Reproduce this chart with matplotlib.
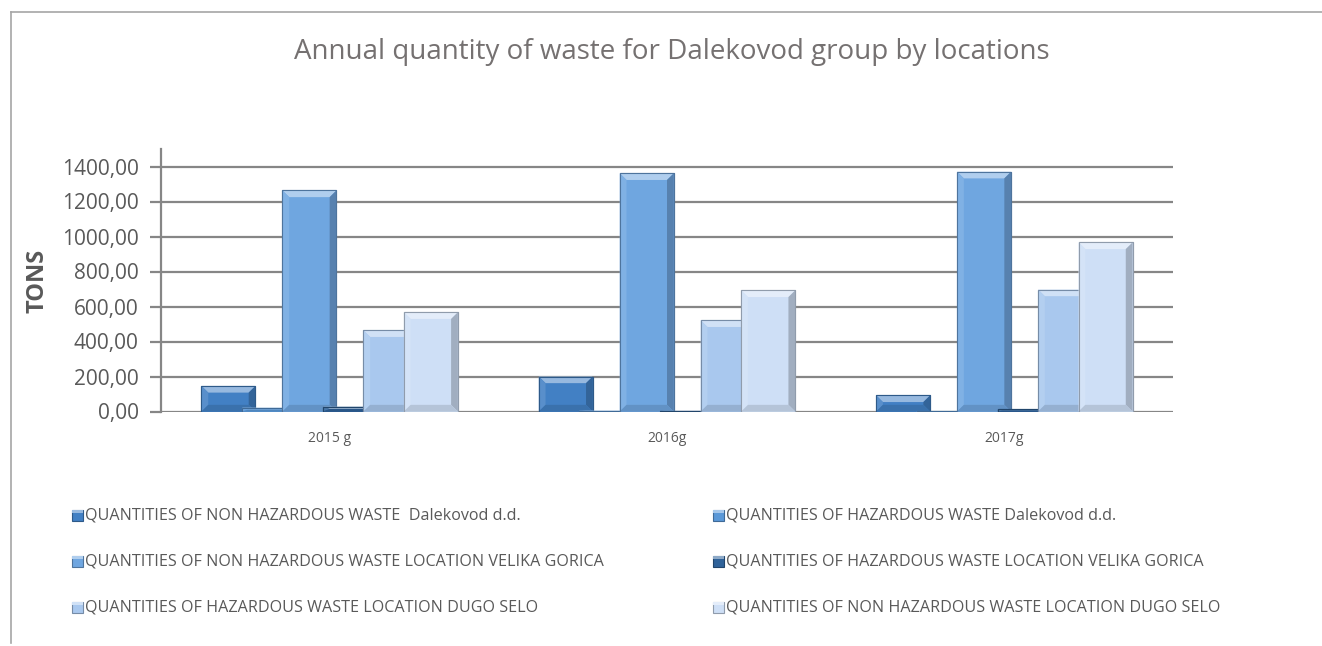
import matplotlib
matplotlib.use("Agg")
import matplotlib.pyplot as plt
from matplotlib.patches import Polygon, Rectangle
from matplotlib.lines import Line2D
import numpy as np

plt.rcParams['font.family'] = ['Open Sans', 'DejaVu Sans']

categories = ["2015 g", "2016g", "2017g"]
series_labels = [
    "QUANTITIES OF NON HAZARDOUS WASTE  Dalekovod d.d.",
    "QUANTITIES OF HAZARDOUS WASTE Dalekovod d.d.",
    "QUANTITIES OF NON HAZARDOUS WASTE LOCATION VELIKA GORICA",
    "QUANTITIES OF HAZARDOUS WASTE LOCATION VELIKA GORICA",
    "QUANTITIES OF HAZARDOUS WASTE LOCATION DUGO SELO",
    "QUANTITIES OF NON HAZARDOUS WASTE LOCATION DUGO SELO",
]
nonhaz_dalekovod = [146, 200, 92]
haz_dalekovod = [22, 5, 3]
nonhaz_velika_gorica = [1263, 1361, 1370]
haz_velika_gorica = [28, 4, 12]
haz_dugo_selo = [464, 521, 697]
nonhaz_dugo_selo = [567, 692, 966]
series_values = [nonhaz_dalekovod, haz_dalekovod, nonhaz_velika_gorica,
                 haz_velika_gorica, haz_dugo_selo, nonhaz_dugo_selo]
yticks = [0, 200, 400, 600, 800, 1000, 1200, 1400]
ytick_labels = ["0,00", "200,00", "400,00", "600,00", "800,00", "1000,00", "1200,00", "1400,00"]

colors = ["#4280C4", "#5A98D8", "#6FA6E0", "#2F6299", "#A9C8EE", "#CEDFF6"]

W, H = 1322, 646
fig = plt.figure(figsize=(W / 100, H / 100), dpi=100)
fig.patch.set_facecolor("white")

def px(x0, y0, x1, y1):
    return [x0 / W, 1 - y1 / H, (x1 - x0) / W, (y1 - y0) / H]

ax = fig.add_axes(px(161, 149, 1173, 411.5))
ax.set_xlim(-0.5, 2.5)
ax.set_ylim(0, 1500)

text_col = "#595959"
grid_col = "#868686"

ax.set_yticks(yticks)
ax.set_yticklabels(ytick_labels, color=text_col)
ax.tick_params(axis='y', length=8, width=1.6, color=grid_col, pad=8, labelsize=15)
ax.tick_params(axis='x', length=0, pad=14, labelsize=10, labelcolor=text_col)
ax.set_xticks(range(len(categories)))
ax.set_xticklabels(categories)
for s in ["top", "right", "bottom"]:
    ax.spines[s].set_visible(False)
ax.spines["left"].set_color(grid_col)
ax.spines["left"].set_linewidth(1.6)
for yv in yticks:
    ax.axhline(yv, color=grid_col, lw=1.6, zorder=0)

x = np.arange(len(categories))
step = 0.12
width = 0.16
n = len(series_values)

def shade(c, f):
    c = np.array(matplotlib.colors.to_rgb(c))
    if f > 0:
        return tuple(c + (1 - c) * f)
    return tuple(c * (1 + f))

bev_x = 0.02
bev_y = 38
for i, vals in enumerate(series_values):
    offs = (i - (n - 1) / 2) * step
    bars = ax.bar(x + offs, vals, width=width, color=colors[i],
                  edgecolor=shade(colors[i], -0.25), linewidth=0.8, zorder=2 + i)
    for b in bars:
        x0, y0 = b.get_x(), b.get_y()
        w, h = b.get_width(), b.get_height()
        by = min(bev_y, h / 2)
        bx = bev_x
        z = 2 + i + 0.5
        ax.add_patch(Polygon([(x0, y0 + h), (x0 + w, y0 + h), (x0 + w - bx, y0 + h - by), (x0 + bx, y0 + h - by)],
                             closed=True, facecolor=shade(colors[i], 0.45), edgecolor='none', zorder=z))
        ax.add_patch(Polygon([(x0, y0), (x0, y0 + h), (x0 + bx, y0 + h - by), (x0 + bx, y0 + by)],
                             closed=True, facecolor=shade(colors[i], 0.12), edgecolor='none', zorder=z))
        ax.add_patch(Polygon([(x0 + w, y0), (x0 + w, y0 + h), (x0 + w - bx, y0 + h - by), (x0 + w - bx, y0 + by)],
                             closed=True, facecolor=shade(colors[i], -0.22), edgecolor='none', zorder=z))
        ax.add_patch(Polygon([(x0, y0), (x0 + w, y0), (x0 + w - bx, y0 + by), (x0 + bx, y0 + by)],
                             closed=True, facecolor=shade(colors[i], -0.12), edgecolor='none', zorder=z))
        ax.add_patch(Rectangle((x0, y0), w, h, facecolor='none', edgecolor=shade(colors[i], -0.3), lw=0.8, zorder=z + 0.1))

ax.set_ylabel("TONS", fontsize=17, fontweight="bold", color=text_col)
ax.yaxis.set_label_coords((50 - 161) / (1173 - 161), (411.5 - 281) / (411.5 - 149))

fig.text(672 / W, 1 - 52 / H, "Annual quantity of waste for Dalekovod group by locations",
         ha="center", va="center", fontsize=20, color="#757171")

# legend (manual, row-major two columns)
leg_x = [77, 718]
leg_y = [515, 561, 607]
for i, lab in enumerate(series_labels):
    col, row = i % 2, i // 2
    cx, cy = leg_x[col], leg_y[row]
    fig.add_artist(Rectangle(((cx - 5.5) / W, 1 - (cy + 5.5) / H), 11 / W, 11 / H,
                             transform=fig.transFigure, facecolor=colors[i],
                             edgecolor=shade(colors[i], -0.3), lw=0.8))
    fig.add_artist(Rectangle(((cx - 5.5) / W, 1 - (cy - 2.5) / H), 11 / W, 3 / H,
                             transform=fig.transFigure, facecolor=shade(colors[i], 0.45),
                             edgecolor='none'))
    fig.text((cx + 8) / W, 1 - cy / H, lab, ha="left", va="center",
             fontsize=11.6, color=text_col)

# chart border
fig.add_artist(Line2D([11 / W, 1.0], [1 - 12 / H, 1 - 12 / H], transform=fig.transFigure, color="#A6A6A6", lw=1.2))
fig.add_artist(Line2D([11 / W, 11 / W], [1 - 12 / H, 1 - 643 / H], transform=fig.transFigure, color="#A6A6A6", lw=1.2))

fig.savefig("out.png", dpi=100, facecolor="white")
